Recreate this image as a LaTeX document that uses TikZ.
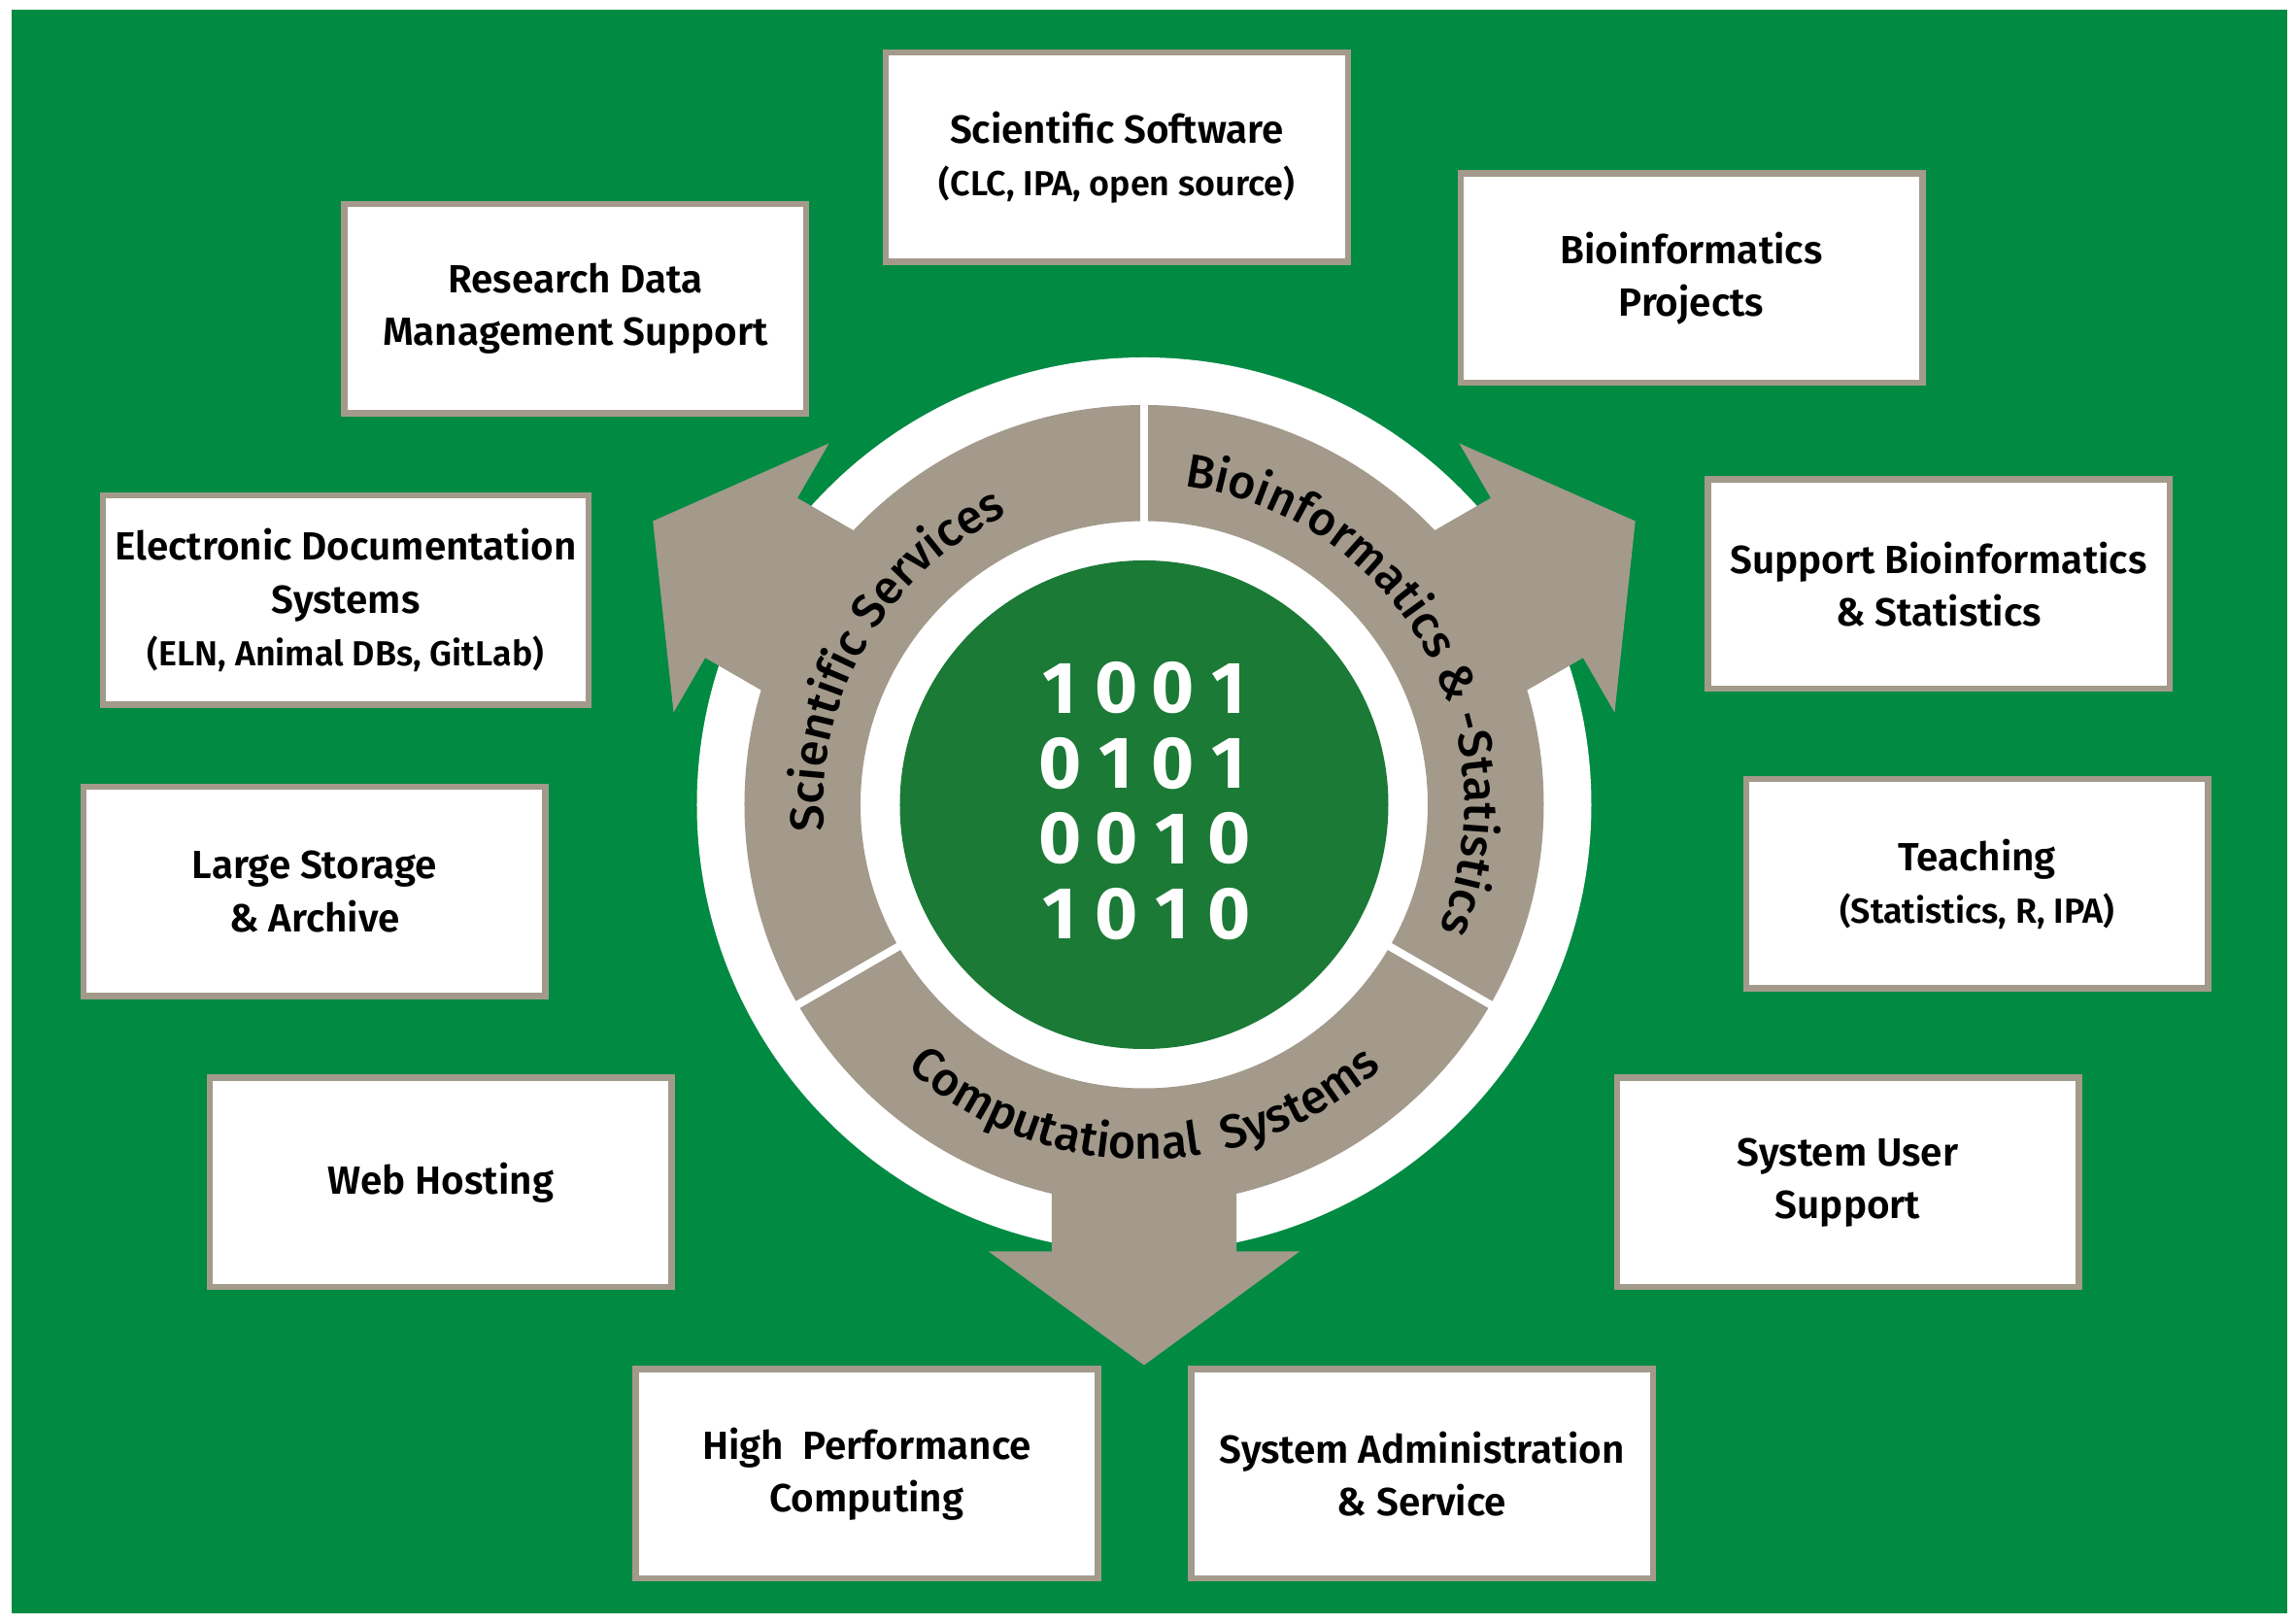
\documentclass[tikz,border=0pt]{standalone}
\usepackage{fontspec}
\setmainfont{Fira Sans}
\newfontfamily\semibold{Fira Sans SemiBold}
\newfontfamily\medium{Fira Sans Medium}
\usetikzlibrary{decorations.text}
\definecolor{bggreen}{HTML}{008A42}
\definecolor{coregreen}{HTML}{1B7A36}
\definecolor{taupe}{HTML}{A39A8B}
\newcommand{\boxfont}{\semibold\fontsize{11.5}{15.4}\selectfont}
\newcommand{\subtext}[1]{{\fontsize{10.2}{15.4}\selectfont #1}}
\newcommand{\arcfont}{\medium\fontsize{13.8}{13.8}\selectfont}
\tikzset{
  infobox/.style={draw=taupe, fill=white, line width=1.85pt, minimum width=4.755cm, minimum height=2.155cm, align=center, inner sep=1pt, font=\boxfont},
  bitdigit/.style={text=white, inner sep=0pt, font=\bfseries\fontsize{21.5}{21.5}\selectfont},
  arctext/.style={decorate, decoration={text along path, text align=center, text={|\arcfont|#1}}}
}
\begin{document}
\begin{tikzpicture}
        \useasboundingbox (-11.78,-8.435) rectangle (11.86,8.285);
        \fill[bggreen] (-11.66,-8.325) rectangle (11.77,8.185);

        \fill[white] (0,0) circle (4.605);
        \foreach \a/\b/\t in {150/4.67/5.84, 30/4.67/5.84, 270/4.60/5.77}
          \fill[taupe, rotate=\a] (3.8,0.95) -- (\b,0.95) -- (\b,1.6) -- (\t,0) -- (\b,-1.6) -- (\b,-0.95) -- (3.8,-0.95) -- cycle;
        \fill[taupe, even odd rule] (0,0) circle (4.115) (0,0) circle (2.92);
        \foreach \a in {90,210,330}
          \draw[white, line width=0.08cm] (\a:2.8) -- (\a:4.2);
        \fill[coregreen] (0,0) circle (2.515);

        \foreach \bits [count=\r] in {{1,0,0,1},{0,1,0,1},{0,0,1,0},{1,0,1,0}}
          \foreach \d [count=\c] in \bits
            \node[bitdigit] (bit\r\c) at ({-1.445+0.58*\c},{1.975-0.775*\r}) {\d};

        \path[arctext={Scientific Services}] (210:3.3) arc[start angle=210, end angle=90, radius=3.3];
        \path[arctext={Bioinformatics {\&} -Statistics}] (90:3.3) arc[start angle=90, end angle=-30, radius=3.3];
        \path[arctext={Computational {\ }Systems}] (210:3.65) arc[start angle=210, end angle=330, radius=3.65];

        \node[infobox] (scisoft) at (-0.28,6.665) {Scientific Software\\\subtext{(CLC, IPA, open source)}};
        \node[infobox] (resdata) at (-5.855,5.105) {Research Data\\Management Support};
        \node[infobox] (bioproj) at (5.635,5.42) {Bioinformatics\\Projects};
        \node[infobox, minimum width=5.0cm] (elecdoc) at (-8.22,2.105) {Electronic Documentation\\Systems\\\subtext{(ELN, Animal DBs, GitLab)}};
        \node[infobox] (supbio) at (8.18,2.27) {Support Bioinformatics\\\& Statistics};
        \node[infobox] (teaching) at (8.575,-0.815) {Teaching\\\subtext{(Statistics, R, IPA)}};
        \node[infobox] (storage) at (-8.54,-0.895) {Large Storage\\\& Archive};
        \node[infobox] (sysuser) at (7.245,-3.89) {System User\\Support};
        \node[infobox] (webhost) at (-7.24,-3.89) {Web Hosting};
        \node[infobox] (hpc) at (-2.855,-6.89) {High\ \ Performance\\Computing};
        \node[infobox] (sysadmin) at (2.86,-6.89) {System Administration\\\& Service};
\end{tikzpicture}
\end{document}
